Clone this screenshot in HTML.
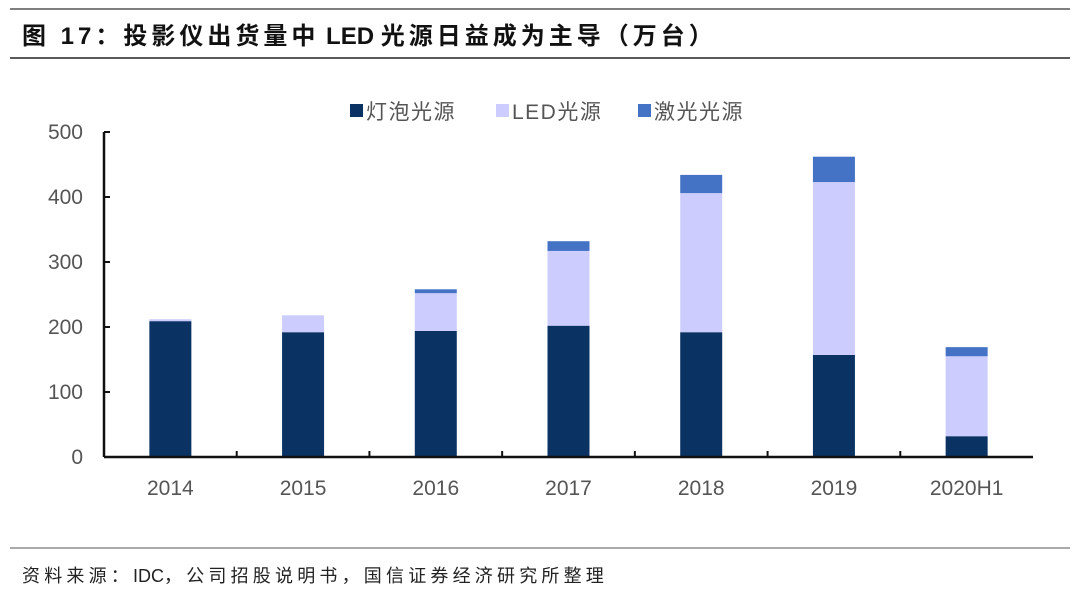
<!DOCTYPE html>
<html><head><meta charset="utf-8"><style>
body{margin:0;background:#fff;width:1080px;height:599px;overflow:hidden;font-family:"Liberation Sans","Noto Sans CJK SC",sans-serif}
</style></head><body>
<svg width="1080" height="599">
<line x1="10" y1="9" x2="1070" y2="9" stroke="#555" stroke-width="1.5"/>
<text x="22" y="44" font-size="24" font-weight="bold" fill="#111"><tspan letter-spacing="4">图 17：投影仪出货量中</tspan><tspan> LED </tspan><tspan letter-spacing="4">光源日益成为主导（万台）</tspan></text>
<line x1="10" y1="58" x2="1070" y2="58" stroke="#222" stroke-width="1.5"/>
<g id="legend" font-size="21" fill="#555" letter-spacing="1.5">
<rect x="350" y="104" width="13" height="13" fill="#0a3363"/>
<text x="366" y="119">灯泡光源</text>
<rect x="496" y="104" width="13" height="13" fill="#ccccff"/>
<text x="512" y="119">LED光源</text>
<rect x="638" y="104" width="13" height="13" fill="#4472c4"/>
<text x="654" y="119">激光光源</text>
</g>
<g id="plot"></g>
<line x1="10" y1="548" x2="1070" y2="548" stroke="#555" stroke-width="1"/>
<text x="22" y="582" font-size="18" fill="#222"><tspan letter-spacing="4.2">资料来源：</tspan><tspan>IDC</tspan><tspan letter-spacing="4.2">，公司招股说明书，国信证券经济研究所整理</tspan></text>
</svg>
<script>
const categories=["2014","2015","2016","2017","2018","2019","2020H1"];
const bulb=[209,192,194,202,192,157,32];
const led=[3,26,58,115,214,266,123];
const laser=[0,0,6,15,28,39,14];
const yTicks=[0,100,200,300,400,500];
const NS="http://www.w3.org/2000/svg";
const g=document.getElementById('plot');
const y0=457,yTop=132,yMax=500,xL=104,xR=1033;
const y=v=>y0-(v/yMax)*(y0-yTop);
const band=(xR-xL)/categories.length;
const xc=i=>xL+band*(i+0.5);
const bw=42;
function el(t,a){const e=document.createElementNS(NS,t);for(const k in a)e.setAttribute(k,a[k]);g.appendChild(e);return e;}
yTicks.forEach(t=>{
 const tx=el('text',{x:83,y:y(t)+7,'font-size':21,fill:'#555','text-anchor':'end'});tx.textContent=t;
 
 
 const tk=el('line',{x1:xL,x2:xL+6,y1:y(t),y2:y(t),stroke:'#111','stroke-width':2});
 
 
});
categories.forEach((c,i)=>{
 const segs=[[bulb[i],'#0a3363','bulb'],[led[i],'#ccccff','led'],[laser[i],'#4472c4','laser']];
 let base=0;
 segs.forEach(([v,col,n])=>{
  if(v>0){const r=el('rect',{x:xc(i)-bw/2,y:y(base+v),width:bw,height:y(base)-y(base+v),fill:col});
  
  }
  base+=v;
 });
 const t=el('text',{x:xc(i),y:495,'font-size':21,fill:'#555','text-anchor':'middle'});t.textContent=c;
 
 
 if(i>0){const tk=el('line',{x1:xL+band*i,x2:xL+band*i,y1:y0,y2:y0-6,stroke:'#111','stroke-width':2});
 
 }
});
const ya=el('line',{x1:xL,x2:xL,y1:yTop,y2:y0,stroke:'#111','stroke-width':2.5});


const xa=el('line',{x1:xL,x2:xR,y1:y0,y2:y0,stroke:'#111','stroke-width':2.5});


</script>
</body></html>
